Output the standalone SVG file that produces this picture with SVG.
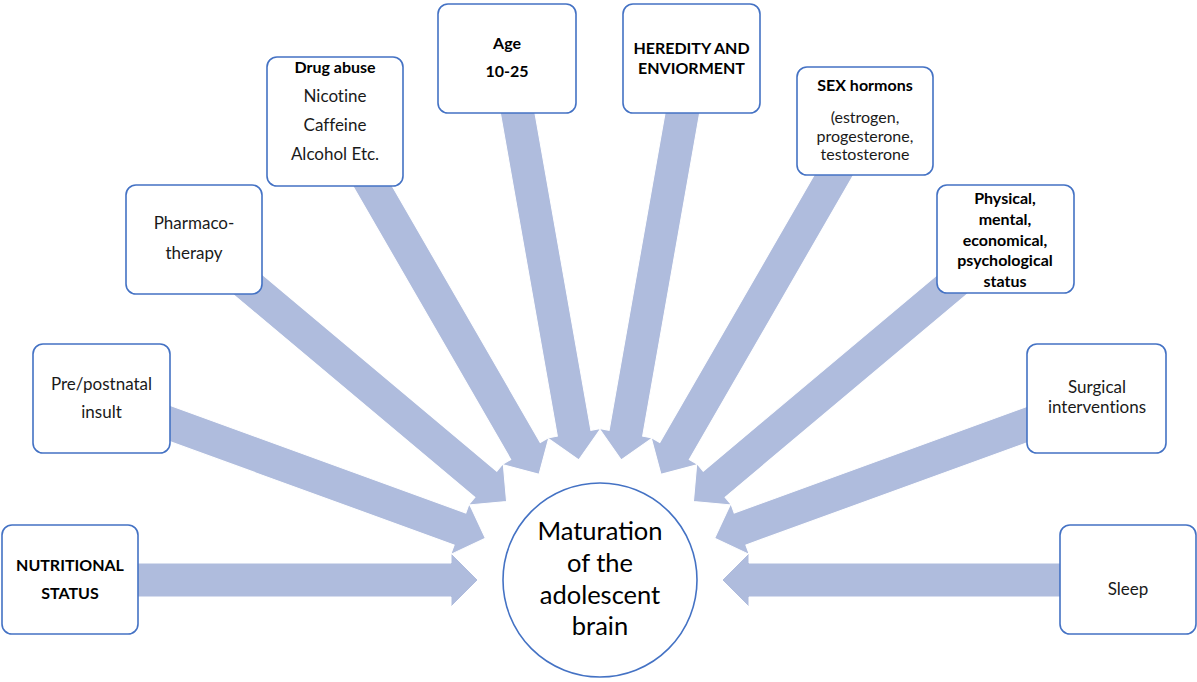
<svg xmlns="http://www.w3.org/2000/svg" width="1197" height="682" viewBox="0 0 1197 682">
<defs>
<style>
.arrow{fill:#AFBCDD;stroke:#ffffff;stroke-width:1}
.box{fill:#ffffff;stroke:#4472C4;stroke-width:1.6}
.t{font-family:Lato,"Liberation Sans",sans-serif;font-size:17px;fill:#1a1a1a;text-anchor:middle;font-variant-ligatures:none}
.b{font-weight:bold;font-size:16px;fill:#000}
.s{font-size:16px}
.c{font-family:Lato,"Liberation Sans",sans-serif;font-size:25.5px;fill:#000;text-anchor:middle}
</style>
<polygon id="arr" points="-530,-17 -149,-17 -149,-27 -122,0 -149,27 -149,17 -530,17"/>
</defs>
<rect width="1197" height="682" fill="#ffffff"/>
<g id="connectors" transform="translate(600,580)">
<use href="#arr" class="arrow" transform="rotate(0)"/>
<use href="#arr" class="arrow" transform="rotate(20)"/>
<use href="#arr" class="arrow" transform="rotate(40)"/>
<use href="#arr" class="arrow" transform="rotate(60)"/>
<use href="#arr" class="arrow" transform="rotate(80)"/>
<use href="#arr" class="arrow" transform="rotate(100)"/>
<use href="#arr" class="arrow" transform="rotate(120)"/>
<use href="#arr" class="arrow" transform="rotate(140)"/>
<use href="#arr" class="arrow" transform="rotate(160)"/>
<use href="#arr" class="arrow" transform="rotate(180)"/>
</g>
<g id="center">
<circle cx="600" cy="580" r="97" fill="#ffffff" stroke="#4472C4" stroke-width="1.6"/>
<text class="c" x="600" y="540">Maturation</text>
<text class="c" x="600" y="572">of the</text>
<text class="c" x="600" y="604">adolescent</text>
<text class="c" x="600" y="635">brain</text>
</g>
<g id="nutritional">
<rect class="box" x="2" y="525" width="136" height="109" rx="10"/>
<text class="t b" x="70" y="571">NUTRITIONAL</text>
<text class="t b" x="70" y="599">STATUS</text>
</g>
<g id="prepostnatal">
<rect class="box" x="33" y="344" width="137" height="109" rx="10"/>
<text class="t" x="101.5" y="390">Pre/postnatal</text>
<text class="t" x="101.5" y="418">insult</text>
</g>
<g id="pharmaco">
<rect class="box" x="126" y="185" width="136" height="109" rx="10"/>
<text class="t" x="194" y="229">Pharmaco-</text>
<text class="t" x="194" y="259">therapy</text>
</g>
<g id="drug">
<rect class="box" x="267" y="57" width="136" height="129" rx="10"/>
<text class="t b" x="335" y="73">Drug abuse</text>
<text class="t" x="335" y="102">Nicotine</text>
<text class="t" x="335" y="131">Caffeine</text>
<text class="t" x="335" y="160">Alcohol Etc.</text>
</g>
<g id="age">
<rect class="box" x="438" y="4" width="138" height="109" rx="10"/>
<text class="t b" x="507" y="49">Age</text>
<text class="t b" x="507" y="77">10-25</text>
</g>
<g id="heredity">
<rect class="box" x="623" y="4" width="137" height="109" rx="10"/>
<text class="t b" x="691.5" y="54">HEREDITY AND</text>
<text class="t b" x="691.5" y="74">ENVIORMENT</text>
</g>
<g id="sex">
<rect class="box" x="797" y="67" width="136" height="108" rx="10"/>
<text class="t b" x="865" y="91">SEX hormons</text>
<text class="t s" x="865" y="123">(estrogen,</text>
<text class="t s" x="865" y="141.5">progesterone,</text>
<text class="t s" x="865" y="160">testosterone</text>
</g>
<g id="physical">
<rect class="box" x="937" y="185" width="137" height="108" rx="10"/>
<text class="t b" x="1005" y="204">Physical,</text>
<text class="t b" x="1005" y="225">mental,</text>
<text class="t b" x="1005" y="246">economical,</text>
<text class="t b" x="1005" y="266">psychological</text>
<text class="t b" x="1005" y="287">status</text>
</g>
<g id="surgical">
<rect class="box" x="1027" y="344" width="139" height="109" rx="10"/>
<text class="t" x="1097" y="393">Surgical</text>
<text class="t" x="1097" y="413">interventions</text>
</g>
<g id="sleep">
<rect class="box" x="1060" y="525" width="136" height="109" rx="10"/>
<text class="t" x="1128" y="595">Sleep</text>
</g>
</svg>
